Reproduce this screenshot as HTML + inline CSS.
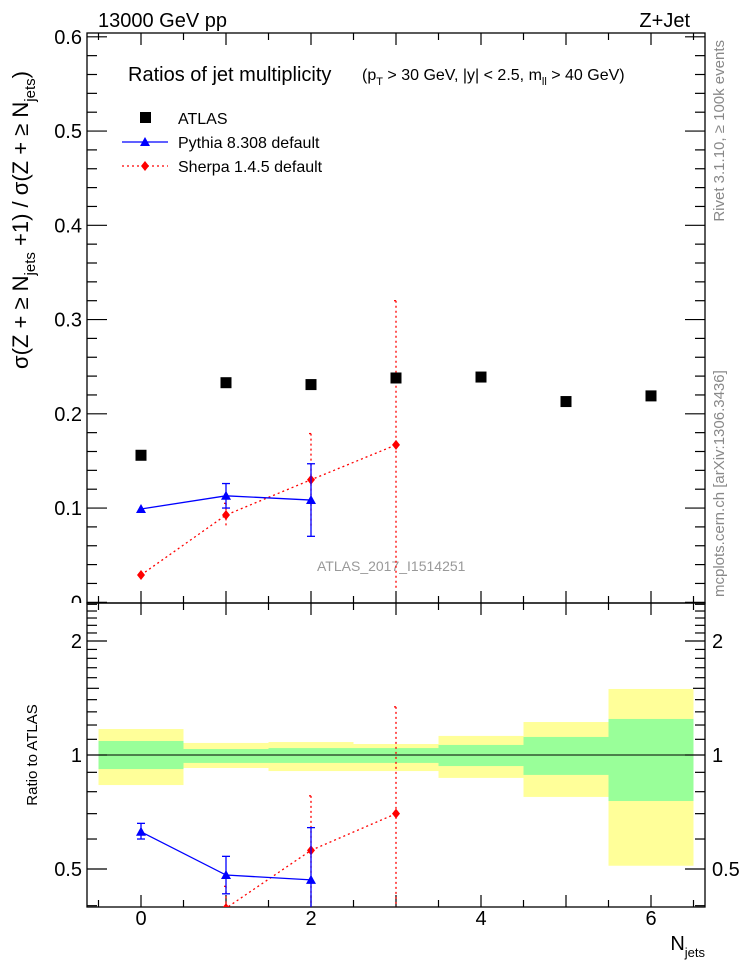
<!DOCTYPE html>
<html><head><meta charset="utf-8"><style>
html,body{margin:0;background:#fff;overflow:hidden;width:746px;height:972px}
svg{display:block;font-family:"Liberation Sans",sans-serif}
</style></head><body>
<svg id="chart" width="746" height="972" viewBox="0 0 746 972" xmlns="http://www.w3.org/2000/svg">
<defs>
<clipPath id="mainClip"><rect x="87" y="33" width="618" height="570"/></clipPath>
<clipPath id="ratioClip"><rect x="87" y="603" width="618" height="304"/></clipPath>
<clipPath id="labClip"><rect x="0" y="0" width="87" height="603"/></clipPath>
</defs>
<text x="98" y="27" font-size="20">13000 GeV pp</text>
<text x="690" y="27" font-size="20" text-anchor="end">Z+Jet</text>
<text x="128" y="81" font-size="20">Ratios of jet multiplicity</text>
<text x="362" y="80" font-size="16">(p<tspan font-size="11" dy="5">T</tspan><tspan dy="-5"> &gt; 30 GeV, |y| &lt; 2.5, m</tspan><tspan font-size="11" dy="5">ll</tspan><tspan dy="-5"> &gt; 40 GeV)</tspan></text>
<text transform="translate(724,40) rotate(-90)" font-size="15" fill="#888" text-anchor="end">Rivet 3.1.10, ≥ 100k events</text>
<text transform="translate(724,597) rotate(-90)" font-size="15" fill="#888">mcplots.cern.ch [arXiv:1306.3436]</text>
<text transform="translate(28,220) rotate(-90)" font-size="22" text-anchor="middle">σ(Z + ≥ N<tspan font-size="15" dy="7">jets</tspan><tspan dy="-7"> +1) / σ(Z + ≥ N</tspan><tspan font-size="15" dy="7">jets</tspan><tspan dy="-7">)</tspan></text>
<text transform="translate(37,755) rotate(-90)" font-size="15" text-anchor="middle">Ratio to ATLAS</text>
<text x="705" y="950" font-size="20" text-anchor="end">N<tspan font-size="13" dy="7">jets</tspan></text>
<text x="317" y="571" font-size="14" fill="#999">ATLAS_2017_I1514251</text>
<g id="bands" clip-path="url(#ratioClip)"></g>
<g id="axes"></g>
<g id="series"></g>
<g id="legend"></g>
</svg>
<script>
const xCats = [0,1,2,3,4,5,6];
const atlas = [0.156,0.233,0.231,0.238,0.239,0.213,0.219];
const pyX = [0,1,2];
const pythia = [0.099,0.113,0.1085];
const pythiaUp = [0.099,0.126,0.147];
const pythiaDn = [0.099,0.100,0.070];
const shX = [0,1,2,3];
const sherpa = [0.029,0.0926,0.130,0.167];
const sherpaUp = [0.029,0.105,0.179,0.320];
const sherpaDn = [0.029,0.080,0.080,0.014];
const pyRatio = [0.627,0.482,0.468];
const pyRatioUp = [0.66,0.54,0.643];
const pyRatioDn = [0.60,0.43,0.30];
const shRatio = [0.19,0.394,0.56,0.70];
const shRatioUp = [0.19,0.45,0.78,1.34];
const shRatioDn = [0.19,0.35,0.30,0.10];
const yellowHi = [1.171,1.076,1.082,1.069,1.123,1.222,1.494];
const yellowLo = [0.833,0.924,0.907,0.907,0.870,0.775,0.51];
const greenHi = [1.089,1.037,1.043,1.043,1.063,1.116,1.245];
const greenLo = [0.918,0.953,0.953,0.953,0.935,0.886,0.756];
const mainTicks = [0,0.1,0.2,0.3,0.4,0.5,0.6];
const mainTickLabels = ["0","0.1","0.2","0.3","0.4","0.5","0.6"];
const ratioTicks = [0.5,1,2];
const ratioTickLabels = ["0.5","1","2"];
const xTickLabels = [0,2,4,6];

const NS="http://www.w3.org/2000/svg";
const L=87,R=705,T=33,MB=603,RB=907;
const xs=v=>141+85*v;
const ym=v=>602.3-942.5*v;
const yr=r=>755-114*Math.log2(r);
function mk(tag,parent,attrs){const e=document.createElementNS(NS,tag);for(const k in attrs)e.setAttribute(k,attrs[k]);parent.appendChild(e);return e;}
const axes=document.getElementById('axes'),bands=document.getElementById('bands'),ser=document.getElementById('series'),leg=document.getElementById('legend');

xCats.forEach((c,i)=>{
  let y=mk('rect',bands,{x:xs(c-0.5),y:yr(yellowHi[i]),width:85,height:yr(yellowLo[i])-yr(yellowHi[i]),fill:'#ffff99'});
  
  
  let g=mk('rect',bands,{x:xs(c-0.5),y:yr(greenHi[i]),width:85,height:yr(greenLo[i])-yr(greenHi[i]),fill:'#99ff99'});
  
  
});
let one=mk('line',bands,{x1:L,x2:R,y1:yr(1),y2:yr(1),stroke:'#000','stroke-width':1});



let f1=mk('rect',axes,{x:L,y:T,width:R-L,height:MB-T,fill:'none',stroke:'#000','stroke-width':1.3});


let f2=mk('rect',axes,{x:L,y:MB,width:R-L,height:RB-MB,fill:'none',stroke:'#000','stroke-width':1.3});


function tick(x1,y1,x2,y2){mk('line',axes,{x1,y1,x2,y2,stroke:'#000','stroke-width':1.2});}
for(let v=-0.5;v<=6.5;v+=0.5){const x=xs(v);const len=Number.isInteger(v)?12:7;
  tick(x,T,x,T+len);tick(x,MB,x,MB-len);tick(x,MB,x,MB+len);tick(x,RB,x,RB-len);}
for(let k=0;k<=30;k++){const v=k*0.02;const y=ym(v);if(y<T)continue;const len=k%5==0?20:10;tick(L,y,L+len,y);tick(R,y,R-len,y);}
const lg=mk('g',axes,{'clip-path':'url(#labClip)'});
mainTicks.forEach((v,i)=>{const t=mk('text',lg,{x:82,y:ym(v)+7,'font-size':20,'text-anchor':'end'});t.textContent=mainTickLabels[i];
  
  });
for(let k=4;k<=25;k++){const r=k/10;const y=yr(r);if(y<MB||y>RB)continue;const len=(k==5||k==10||k==20)?20:(k==15?12:10);tick(L,y,L+len,y);tick(R,y,R-len,y);}
ratioTicks.forEach((r,i)=>{const t=mk('text',axes,{x:82,y:yr(r)+7,'font-size':20,'text-anchor':'end'});t.textContent=ratioTickLabels[i];
  
  
  const t2=mk('text',axes,{x:712,y:yr(r)+7,'font-size':20});t2.textContent=ratioTickLabels[i];
  
  });
xTickLabels.forEach(v=>{const t=mk('text',axes,{x:xs(v),y:925,'font-size':20,'text-anchor':'middle'});t.textContent=v;
  
  });

function tri(p,x,y,c){const e=mk('polygon',p,{points:`${x-5},${y+4} ${x+5},${y+4} ${x},${y-5}`,fill:c});return e;}
function dia(p,x,y,c){const e=mk('polygon',p,{points:`${x-4},${y} ${x},${y-5} ${x+4},${y} ${x},${y+5}`,fill:c});return e;}
function series(p,xv,vals,up,dn,yf,color,dash,marker,name){
  const g=mk('g',p,{});
  
  
  const pts=xv.map((x,i)=>xs(x)+','+yf(vals[i])).join(' ');
  mk('polyline',g,{points:pts,fill:'none',stroke:color,'stroke-width':1.3,'stroke-dasharray':dash});
  xv.forEach((x,i)=>{const X=xs(x);
    if(up[i]!==dn[i]){mk('line',g,{x1:X,x2:X,y1:yf(up[i]),y2:yf(dn[i]),stroke:color,'stroke-width':1.3,'stroke-dasharray':dash});
      if(!dash){mk('line',g,{x1:X-4,x2:X+4,y1:yf(up[i]),y2:yf(up[i]),stroke:color,'stroke-width':1.3});mk('line',g,{x1:X-4,x2:X+4,y1:yf(dn[i]),y2:yf(dn[i]),stroke:color,'stroke-width':1.3});}
      else{mk('line',g,{x1:X-2,x2:X+2,y1:yf(up[i]),y2:yf(up[i]),stroke:color,'stroke-width':1.3,'stroke-dasharray':dash});}}
    const m=marker(g,X,yf(vals[i]),color);
    
    
  });
}
const mg=mk('g',ser,{'clip-path':'url(#mainClip)'});
const rg=mk('g',ser,{'clip-path':'url(#ratioClip)'});
series(mg,shX,sherpa,sherpaUp,sherpaDn,ym,'#f00','2,3',dia,'sherpa-series');
series(mg,pyX,pythia,pythiaUp,pythiaDn,ym,'#00f',null,tri,'pythia-series');
atlas.forEach((v,i)=>{const r=mk('rect',mg,{x:xs(xCats[i])-5.5,y:ym(v)-5.5,width:11,height:11,fill:'#000'});
  
  });
series(rg,shX,shRatio,shRatioUp,shRatioDn,yr,'#f00','2,3',dia,'sherpa-ratio-series');
series(rg,pyX,pyRatio,pyRatioUp,pyRatioDn,yr,'#00f',null,tri,'pythia-ratio-series');

let e=mk('rect',leg,{x:140,y:112,width:11,height:11,fill:'#000'});


let t=mk('text',leg,{x:178,y:124,'font-size':16});t.textContent='ATLAS';


mk('line',leg,{x1:122,x2:168,y1:142,y2:142,stroke:'#00f','stroke-width':1.3});
tri(leg,145,142,'#00f');
t=mk('text',leg,{x:178,y:148,'font-size':16});t.textContent='Pythia 8.308 default';


mk('line',leg,{x1:122,x2:168,y1:166,y2:166,stroke:'#f00','stroke-width':1.3,'stroke-dasharray':'2,3'});
dia(leg,145,166,'#f00');
t=mk('text',leg,{x:178,y:172,'font-size':16});t.textContent='Sherpa 1.4.5 default';


</script>
</body></html>
